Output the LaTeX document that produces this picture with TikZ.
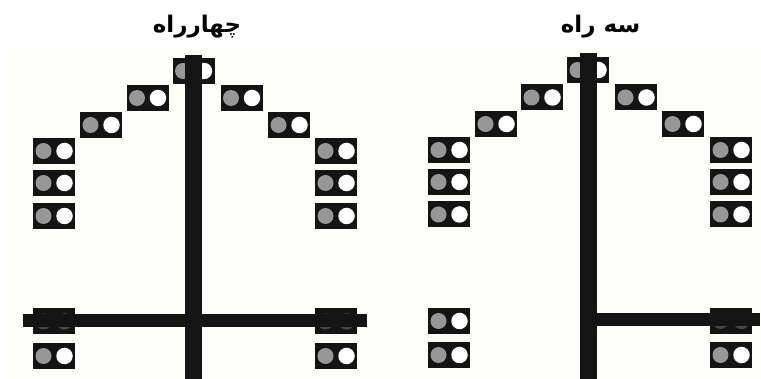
\documentclass[tikz,border=0pt]{standalone}
\usepackage{fontspec}
\TeXXeTstate=1
\newfontfamily\arabicfont[Script=Arabic]{DejaVu Sans}
\definecolor{ink}{HTML}{141414}
\definecolor{lamp}{HTML}{979797}
\definecolor{paper}{HTML}{FEFEFB}
\tikzset{
  housing/.style={draw=none,fill=ink,minimum width=42pt,minimum height=26pt,inner sep=0pt,outer sep=0pt},
  lampa/.style={circle,draw=none,fill=lamp,minimum size=16pt,inner sep=0pt},
  lampb/.style={circle,draw=none,fill=white,minimum size=16.5pt,inner sep=0pt},
  hidden/.style={fill=black!72},
  pole/.style={draw=ink,line width=17pt},
  road/.style={draw=ink,line width=13pt},
  title/.style={font=\arabicfont\bfseries\fontsize{23}{27}\selectfont,inner sep=0pt,text=black}
}
\newcommand{\sgn}[4][]{%
  \node[housing] (#2) at (#3,#4) {};
  \node[lampa,#1] (#2a) at (#3-10.5,#4) {};
  \node[lampb,#1] (#2b) at (#3+10.5,#4) {};
}
\begin{document}
\begin{tikzpicture}[x=1pt,y=-1pt]
\useasboundingbox (0,0) rectangle (761,379);
\fill[paper] (9,50) rectangle (761,379);
\node[title] (t1) at (197,27) {\beginR چهارراه\endR};
\node[title] (t2) at (600.5,27) {\beginR سه راه\endR};
% left panel
\sgn{a1}{193.5}{71}
\sgn{a2}{147.5}{98}
\sgn{a3}{101}{125}
\sgn{a4}{54}{151}
\sgn{a5}{54}{183}
\sgn{a6}{54}{216}
\sgn{a7}{241.5}{98}
\sgn{a8}{289}{125}
\sgn{a9}{336}{151}
\sgn{a10}{336}{183}
\sgn{a11}{336}{216}
\sgn[hidden]{a12}{54}{321.5}
\sgn{a13}{54}{356}
\sgn[hidden]{a14}{336}{321.5}
\sgn{a15}{336}{356}
\coordinate (atop) at (193.5,55);
\coordinate (abot) at (193.5,379);
\coordinate (aw) at (23,321);
\coordinate (ae) at (367,321);
\draw[pole] (atop) -- (abot);
\draw[road] (aw) -- (ae);
% right panel
\sgn{b1}{588}{70}
\sgn{b2}{542}{97.5}
\sgn{b3}{496}{124}
\sgn{b4}{449}{150}
\sgn{b5}{449}{182}
\sgn{b6}{449}{214.5}
\sgn{b7}{636}{97.5}
\sgn{b8}{683}{124}
\sgn{b9}{731}{150}
\sgn{b10}{731}{182}
\sgn{b11}{731}{214.5}
\sgn{b12}{449}{321}
\sgn{b13}{449}{355}
\sgn[hidden]{b14}{731}{321}
\sgn{b15}{731}{355}
\coordinate (btop) at (588.5,53);
\coordinate (bbot) at (588.5,379);
\coordinate (bj) at (588.5,320);
\coordinate (be) at (760,320);
\draw[pole] (btop) -- (bbot);
\draw[road] (bj) -- (be);
\end{tikzpicture}
\end{document}
